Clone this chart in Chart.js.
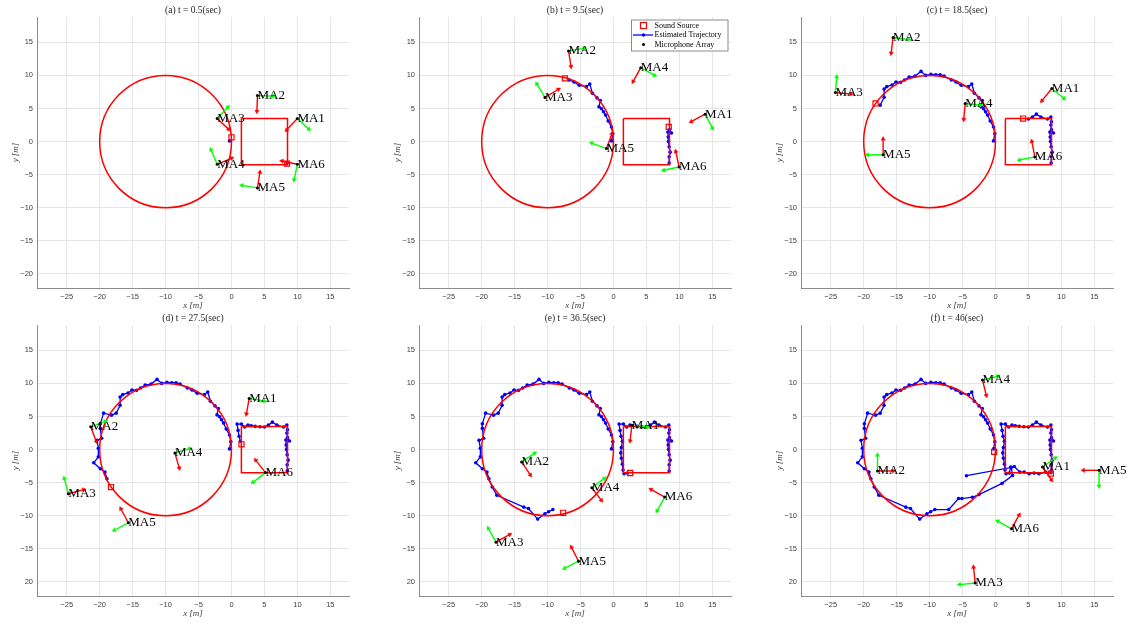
<!DOCTYPE html>
<html>
<head>
<meta charset="utf-8">
<script src="https://cdn.jsdelivr.net/npm/chart.js@4.4.0/dist/chart.umd.min.js"></script>
<style>
  body { margin: 0; background: #fff; width: 1136px; height: 623px; position: relative; overflow: hidden; }
  canvas { position: absolute; }
</style>
</head>
<body>
<script>
// panel titles
const titles = ['(a) t = 0.5(sec)', '(b) t = 9.5(sec)', '(c) t = 18.5(sec)',
                '(d) t = 27.5(sec)', '(e) t = 36.5(sec)', '(f) t = 46(sec)'];

// true source paths (circle + square)
const circleCenter = [-10, 0];
const circleRadius = 10;
const squareX = [1.5, 8.5, 8.5, 1.5, 1.5];
const squareY = [3.5, 3.5, -3.5, -3.5, 3.5];

// estimated trajectory of source 1 (circle) - full, as in (f)
const traj1X = [-0.3, -0.1, -0.3, -0.8, -1.2, -1.5, -1.8, -2.2, -2.0, -2.5, -3.2, -3.6, -4.1, -5.2, -6.0, -6.7,
                -7.8, -8.4, -9.05, -9.8, -10.6, -11.3, -12.2, -13.1, -13.8, -14.4, -15.1, -15.7, -16.5, -16.9, -16.9, -17.5,
                -18.2, -19.4, -19.9, -19.9, -19.7, -20.4, -20.2, -20.2, -20.9, -19.9, -19.2, -18.9,
                -18.4, -17.7, -13.6, -12.9, -11.5, -10.4, -9.85, -9.2,
                -7.1, -5.6, -5.1, -3.5, -2.5, 1.0, 2.6, 2.4, -4.4];
const traj1Y = [0.1, 1.2, 2.2, 3.1, 4.0, 4.5, 4.95, 5.25, 6.2, 6.6, 7.3, 8.7, 8.3, 8.5, 9.0, 9.3,
                9.9, 10.1, 10.1, 10.15, 10.0, 10.6, 9.9, 9.75, 9.3, 8.95, 9.0, 8.55, 8.3, 7.95, 6.7, 5.5,
                5.2, 5.5, 3.9, 3.2, 1.7, 1.4, 0.2, -1.1, -2.0, -2.9, -3.4, -4.4,
                -5.65, -6.9, -8.7, -8.9, -10.5, -9.7, -9.4, -9.06,
                -9.06, -7.4, -7.4, -7.2, -6.8, -5.1, -3.9, -2.7, -3.95];
// estimated trajectory of source 2 (square)
const traj2X = [8.45, 8.45, 8.6, 8.45, 8.35, 8.3, 8.25, 8.8, 8.5,
                8.4, 8.5, 8.4, 7.9, 6.9, 6.2, 5.6, 5.0,
                4.3, 3.6, 3.0, 2.5, 2.0, 1.5, 0.85, 1.0, 1.15, 1.35,
                1.2, 1.1, 1.2, 1.35, 1.45, 1.6, 2.1,
                2.3, 2.85, 3.7, 4.35, 5.1, 5.85, 6.6, 7.6, 8.4];
const traj2Y = [-3.25, -2.3, -1.6, -0.8, 0.0, 0.7, 1.45, 1.3, 1.8,
                2.5, 3.0, 3.7, 3.4, 3.7, 4.15, 3.7, 3.4,
                3.45, 3.5, 3.6, 3.7, 3.4, 3.85, 3.85, 2.9, 2.0, 1.25,
                0.3, -0.5, -1.3, -2.2, -3.1, -3.65, -3.55,
                -2.65, -2.55, -3.4, -3.4, -3.65, -3.55, -3.65, -3.4, -3.5];
// number of estimates shown in each panel
const traj1Count = [1, 16, 32, 44, 52, 61];
const traj2Count = [1, 9, 17, 27, 34, 43];

// sound source positions per panel
const src1X = [0.0, -7.37, -18.2, -18.28, -7.63, -0.2];
const src1Y = [0.65, 9.55, 5.76, -5.66, -9.55, -0.35];
const src2X = [8.43, 8.38, 4.2, 1.52, 2.53, 8.4];
const src2Y = [-3.33, 2.22, 3.48, 0.8, -3.54, -3.64];

// microphone arrays MA1..MA6 per panel: position and heading (deg)
const maX = [
  [10.0, 3.94, -2.17, -2.17, 3.94, 10.0],
  [13.9, -6.82, -10.4, 4.14, -1.06, 9.95],
  [8.55, -15.54, -24.29, -4.6, -17.05, 5.97],
  [2.68, -21.36, -24.75, -8.59, -15.66, 5.15],
  [2.78, -13.94, -17.83, -3.28, -5.3, 7.78],
  [7.13, -17.9, -3.08, -1.97, 15.72, 2.43]
];
const maY = [
  [3.5, 6.95, 3.48, -3.43, -7.0, -3.43],
  [4.14, 13.7, 6.67, 11.16, -1.06, -3.84],
  [8.01, 15.72, 7.4, 5.74, -2.0, -2.32],
  [7.73, 3.43, -6.67, -0.5, -11.06, -3.48],
  [3.69, -1.87, -13.99, -5.76, -16.87, -7.17],
  [-2.63, -3.23, -20.15, 10.5, -3.13, -11.97]
];
const maAngle = [
  [227, 268, 317, 23, 81, 168],
  [208, 279, 31, 241, 70, 102],
  [231, 263, 355, 265, 90, 101],
  [260, 291, 15, 286, 118, 128],
  [264, 304, 29, 307, 117, 151],
  [305, 0, 96, 284, 180, 61]
];
const arrowLen = 2.4;

const legendLabels = ['Sound Source', 'Estimated Trajectory', 'Microphone Array'];

function pts(xs, ys, n) {
  return xs.slice(0, n).map((x, i) => ({ x: x, y: ys[i] }));
}

function tickFmt(bottomRow) {
  return function (v) {
    if (bottomRow && v === -20) return '20';
    return v < 0 ? '\u2212' + Math.abs(v) : String(v);
  };
}

function arrow(x, y, deg, color) {
  const r = deg * Math.PI / 180;
  return {
    data: [{ x: x, y: y }, { x: x + arrowLen * Math.cos(r), y: y + arrowLen * Math.sin(r) }],
    showLine: true,
    borderColor: color,
    borderWidth: 1.4,
    pointStyle: 'triangle',
    pointRadius: [0, 2.4],
    pointRotation: [0, 90 - deg],
    pointBackgroundColor: color,
    pointBorderColor: color,
    pointBorderWidth: 0.5,
    order: 1
  };
}

for (let p = 0; p < 6; p++) {
  const col = p % 3, row = Math.floor(p / 3);
  const cv = document.createElement('canvas');
  cv.width = 372; cv.height = 315;
  cv.style.left = (col * 382) + 'px';
  cv.style.top = (row * 308) + 'px';
  document.body.appendChild(cv);

  const datasets = [];
  // sound sources
  datasets.push({
    data: [{ x: src1X[p], y: src1Y[p] }, { x: src2X[p], y: src2Y[p] }],
    showLine: false, pointStyle: 'rect', pointRadius: 3.6,
    borderColor: '#ff0000', backgroundColor: 'rgba(0,0,0,0)', borderWidth: 1.2, order: 0
  });
  // microphone array positions
  datasets.push({
    data: pts(maX[p], maY[p], 6), showLine: false, pointRadius: 1.5,
    backgroundColor: '#000', borderColor: '#000', borderWidth: 0, order: 0
  });
  // orientation arrows
  for (let i = 0; i < 6; i++) {
    datasets.push(arrow(maX[p][i], maY[p][i], maAngle[p][i], '#ff0000'));
    datasets.push(arrow(maX[p][i], maY[p][i], maAngle[p][i] + 90, '#00ff00'));
  }
  // true square path
  datasets.push({
    data: pts(squareX, squareY, squareX.length), showLine: true, pointRadius: 0,
    borderColor: '#ff0000', borderWidth: 1.5, order: 2
  });
  // estimated trajectories
  const trajIndex = datasets.length;
  datasets.push({
    data: pts(traj1X, traj1Y, traj1Count[p]), showLine: true,
    borderColor: '#0000ff', backgroundColor: '#0000ff', borderWidth: 1.3,
    pointRadius: 1.8, pointBorderWidth: 0, order: 3
  });
  datasets.push({
    data: pts(traj2X, traj2Y, traj2Count[p]), showLine: true,
    borderColor: '#0000ff', backgroundColor: '#0000ff', borderWidth: 1.3,
    pointRadius: 1.8, pointBorderWidth: 0, order: 4
  });

  const decor = {
    id: 'decor' + p,
    afterDatasetDraw(chart, args) {
      if (args.index !== trajIndex) return;
      // true circle path, drawn over the estimates
      const xs = chart.scales.x, ys = chart.scales.y;
      const cx = xs.getPixelForValue(circleCenter[0]);
      const cy = ys.getPixelForValue(circleCenter[1]);
      const rx = Math.abs(xs.getPixelForValue(circleCenter[0] + circleRadius) - cx);
      const ry = Math.abs(ys.getPixelForValue(circleCenter[1] + circleRadius) - cy);
      const ctx = chart.ctx;
      ctx.save();
      ctx.strokeStyle = '#ff0000';
      ctx.lineWidth = 1.5;
      ctx.beginPath();
      ctx.ellipse(cx, cy, rx, ry, 0, 0, Math.PI * 2);
      ctx.stroke();
      ctx.restore();
    },
    afterDraw(chart) {
      const ctx = chart.ctx, a = chart.chartArea;
      const xs = chart.scales.x, ys = chart.scales.y;
      ctx.save();
      // title
      ctx.fillStyle = '#262626';
      ctx.font = '9.5px "Liberation Serif"';
      ctx.textAlign = 'center';
      ctx.textBaseline = 'middle';
      ctx.fillText(titles[p], (a.left + a.right) / 2, 10);
      // MA labels
      ctx.fillStyle = '#000';
      ctx.font = '13px "Liberation Serif"';
      ctx.textAlign = 'left';
      for (let i = 0; i < 6; i++) {
        ctx.fillText('MA' + (i + 1), xs.getPixelForValue(maX[p][i]), ys.getPixelForValue(maY[p][i]));
      }
      // legend (panel b only)
      if (p === 1) {
        const bx = 249.5, by = 20, bw = 96.5, bh = 31;
        ctx.fillStyle = '#fff';
        ctx.fillRect(bx, by, bw, bh);
        ctx.strokeStyle = '#8c8c8c';
        ctx.lineWidth = 1;
        ctx.strokeRect(bx, by, bw, bh);
        const mx = 261.5, rowsY = [25.5, 35, 44.5];
        ctx.strokeStyle = '#ff0000';
        ctx.lineWidth = 1.2;
        ctx.strokeRect(mx - 3, rowsY[0] - 3, 6, 6);
        ctx.strokeStyle = '#0000ff';
        ctx.lineWidth = 1.3;
        ctx.beginPath(); ctx.moveTo(251, rowsY[1]); ctx.lineTo(271, rowsY[1]); ctx.stroke();
        ctx.fillStyle = '#0000ff';
        ctx.beginPath(); ctx.arc(mx, rowsY[1], 1.7, 0, Math.PI * 2); ctx.fill();
        ctx.fillStyle = '#000';
        ctx.beginPath(); ctx.arc(mx, rowsY[2], 1.5, 0, Math.PI * 2); ctx.fill();
        ctx.font = '8px "Liberation Serif"';
        ctx.textBaseline = 'middle';
        legendLabels.forEach((t, i) => ctx.fillText(t, 272.5, rowsY[i]));
      }
      ctx.restore();
    }
  };

  new Chart(cv.getContext('2d'), {
    type: 'scatter',
    data: { datasets: datasets },
    options: {
      responsive: false,
      animation: false,
      devicePixelRatio: 1,
      events: [],
      layout: { padding: { top: 17, right: 23, left: 0, bottom: 0 } },
      plugins: { legend: { display: false }, tooltip: { enabled: false } },
      scales: {
        x: {
          type: 'linear', min: -29.51, max: 17.83,
          afterFit: s => { s.height = 27; },
          grid: { color: '#e6e6e6', drawTicks: false },
          border: { color: '#6e6e6e', width: 0.8 },
          ticks: { stepSize: 5, includeBounds: false, padding: 4, color: '#404040',
                   font: { family: 'Liberation Sans', size: 7.5 }, callback: tickFmt(false), maxRotation: 0 },
          title: { display: true, text: 'x [m]', color: '#404040',
                   font: { family: 'Liberation Serif', size: 9, style: 'italic' }, padding: { top: 0, bottom: 4 } }
        },
        y: {
          type: 'linear', min: -22.12, max: 18.82,
          afterFit: s => { s.width = 37; },
          grid: { color: '#e6e6e6', drawTicks: false },
          border: { color: '#6e6e6e', width: 0.8 },
          ticks: { stepSize: 5, includeBounds: false, padding: 4, color: '#404040',
                   font: { family: 'Liberation Sans', size: 7.5 }, callback: tickFmt(row === 1) },
          title: { display: true, text: 'y [m]', color: '#404040',
                   font: { family: 'Liberation Serif', size: 9, style: 'italic' }, padding: { top: 10, bottom: 0 } }
        }
      }
    },
    plugins: [decor]
  });
}
</script>
</body>
</html>
